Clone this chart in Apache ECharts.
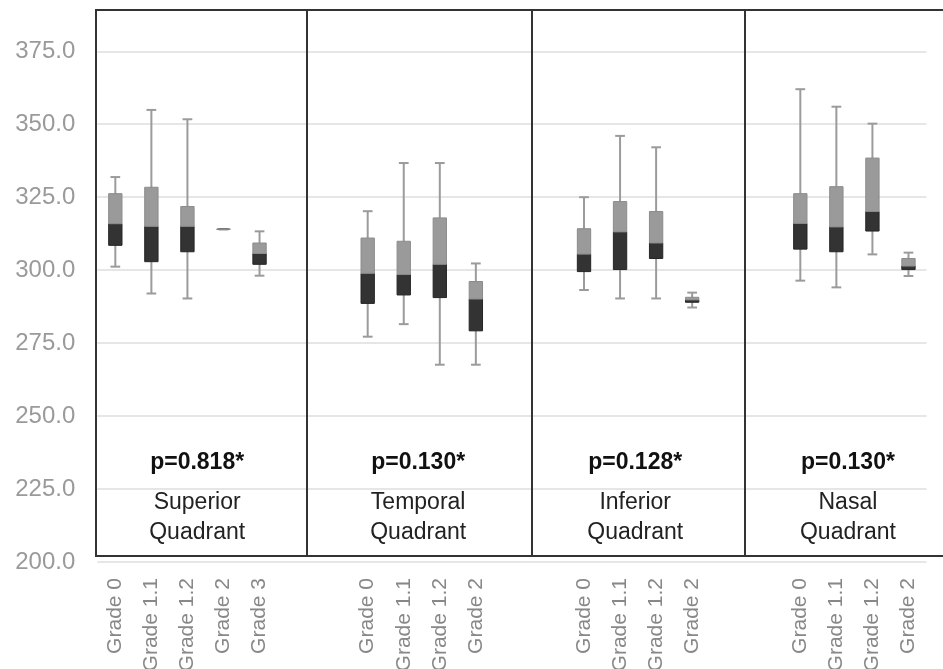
<!DOCTYPE html>
<html>
<head>
<meta charset="utf-8">
<title>Quadrant box plots</title>
<script src="https://cdn.jsdelivr.net/npm/echarts@6.0.0/dist/echarts.min.js"></script>
<style>
  html, body { margin: 0; padding: 0; background: #fff; }
  #chart { width: 943px; height: 669px; }
</style>
</head>
<body>
<div id="chart"></div>
<script>
// grades shown in each quadrant
const gradesSuperior = ['Grade 0', 'Grade 1.1', 'Grade 1.2', 'Grade 2', 'Grade 3'];
const gradesOther = ['Grade 0', 'Grade 1.1', 'Grade 1.2', 'Grade 2'];

// [min, q1, median, q3, max]
const superior = [
  [301.2, 308.5, 315.9, 326.2, 331.9],
  [292.0, 302.9, 315.0, 328.4, 354.9],
  [290.3, 306.3, 315.0, 321.8, 351.7],
  [314.0, 314.0, 314.0, 314.0, 314.0],
  [298.1, 302.0, 305.7, 309.3, 313.3]
];
const temporal = [
  [277.2, 288.6, 298.9, 311.0, 320.2],
  [281.5, 291.5, 298.5, 309.9, 336.7],
  [267.6, 290.6, 302.0, 317.9, 336.7],
  [267.6, 279.2, 290.1, 296.1, 302.3]
];
const inferior = [
  [293.2, 299.5, 305.5, 314.2, 325.0],
  [290.3, 300.2, 313.1, 323.5, 346.0],
  [290.3, 304.0, 309.3, 320.1, 342.1],
  [287.2, 289.0, 289.8, 290.7, 292.3]
];
const nasal = [
  [296.4, 307.2, 316.0, 326.2, 362.0],
  [294.1, 306.3, 314.8, 328.6, 356.0],
  [305.4, 313.4, 320.1, 338.4, 350.2],
  [298.0, 300.2, 301.4, 304.0, 306.0]
];

const quadrantNames = ['Superior\nQuadrant', 'Temporal\nQuadrant', 'Inferior\nQuadrant', 'Nasal\nQuadrant'];
const pValues = ['p=0.818*', 'p=0.130*', 'p=0.128*', 'p=0.130*'];

// layout in slot units (hidden value axis), not data
const dividerPos = [5.31, 11.55, 17.47];
const textPos = [2.27, 8.40, 14.42, 20.32];
const yMin = 200, yMax = 389, frameBottom = 202;

const panels = [
  { grades: gradesSuperior, boxes: superior },
  { grades: gradesOther, boxes: temporal },
  { grades: gradesOther, boxes: inferior },
  { grades: gradesOther, boxes: nasal }
];

const categories = [];
const boxData = [];
panels.forEach((p, k) => {
  if (k > 0) { categories.push('', ''); } // gap between quadrants
  p.grades.forEach((g, i) => {
    boxData.push([categories.length].concat(p.boxes[i]));
    categories.push(g);
  });
});

function renderBox(params, api) {
  const x = api.value(0);
  const pMin = api.coord([x, api.value(1)]);
  const pQ1 = api.coord([x, api.value(2)]);
  const pMed = api.coord([x, api.value(3)]);
  const pQ3 = api.coord([x, api.value(4)]);
  const pMax = api.coord([x, api.value(5)]);
  const band = api.size([1, 0])[0];
  const bw = band * 0.37;
  const cw = band * 0.27;
  const cx = pMin[0];
  const whisker = { stroke: '#9b9b9b', lineWidth: 2 };
  return {
    type: 'group',
    children: [
      { type: 'line', shape: { x1: cx, y1: pMax[1], x2: cx, y2: pMin[1] }, style: whisker },
      { type: 'line', shape: { x1: cx - cw / 2, y1: pMax[1], x2: cx + cw / 2, y2: pMax[1] }, style: whisker },
      { type: 'line', shape: { x1: cx - cw / 2, y1: pMin[1], x2: cx + cw / 2, y2: pMin[1] }, style: whisker },
      {
        type: 'rect',
        shape: { x: cx - bw / 2, y: pMed[1], width: bw, height: pQ1[1] - pMed[1] },
        style: { fill: '#333333', stroke: '#262626', lineWidth: 1 }
      },
      {
        type: 'rect',
        shape: { x: cx - bw / 2, y: pQ3[1], width: bw, height: pMed[1] - pQ3[1] },
        style: { fill: '#9a9a9a', stroke: '#8c8c8c', lineWidth: 1 }
      }
    ]
  };
}

const chart = echarts.init(document.getElementById('chart'));

const dividerLines = dividerPos.map(u => [
  { coord: [u, frameBottom] },
  { coord: [u, yMax] }
]);
const textPoints = [];
textPos.forEach((u, i) => {
  textPoints.push({
    coord: [u, 233.9], value: pValues[i],
    label: { fontWeight: 'bold', fontSize: 23, color: '#111' }
  });
  textPoints.push({
    coord: [u, 215.1], value: quadrantNames[i],
    label: { fontSize: 23, color: '#222', lineHeight: 30 }
  });
});

chart.setOption({
  animation: false,
  textStyle: { fontFamily: 'Liberation Sans, Arial, sans-serif' },
  grid: [
    { left: 97.3, right: 16.5, top: 10.4, bottom: 107, outerBoundsMode: 'none', containLabel: false },
    // outer frame of the panels, running past the right edge
    {
      left: 96, width: 870, top: 10, bottom: 113, outerBoundsMode: 'none', containLabel: false,
      show: true, borderColor: '#333', borderWidth: 2, backgroundColor: 'transparent', z: 5
    }
  ],
  xAxis: [
    {
      type: 'category',
      data: categories,
      gridIndex: 0,
      axisLine: { show: false },
      axisTick: { show: false },
      splitLine: { show: false },
      axisLabel: { interval: 0, rotate: 90, color: '#888', fontSize: 21, margin: 16 }
    },
    { type: 'value', gridIndex: 0, min: -0.5, max: 22.5, show: false },
    { type: 'value', gridIndex: 1, show: false }
  ],
  yAxis: [
    {
      type: 'value',
      gridIndex: 0,
      min: yMin,
      max: yMax,
      interval: 25,
      axisLine: { show: false },
      axisTick: { show: false },
      splitLine: { show: true, showMaxLine: false, lineStyle: { color: '#e6e6e6', width: 2 } },
      axisLabel: {
        color: '#9a9a9a', fontSize: 24, margin: 22, showMaxLabel: false,
        formatter: v => v.toFixed(1)
      }
    },
    { type: 'value', gridIndex: 1, show: false }
  ],
  series: [
    {
      type: 'custom',
      name: 'boxes',
      xAxisIndex: 0,
      yAxisIndex: 0,
      renderItem: renderBox,
      encode: { x: 0, y: [1, 2, 3, 4, 5] },
      data: boxData,
      z: 3
    },
    {
      type: 'line',
      name: 'frame',
      xAxisIndex: 1,
      yAxisIndex: 0,
      data: [],
      silent: true,
      z: 6,
      markLine: {
        silent: true,
        symbol: 'none',
        animation: false,
        label: { show: false },
        lineStyle: { color: '#333', width: 2, type: 'solid' },
        data: dividerLines
      },
      markPoint: {
        silent: true,
        symbol: 'circle',
        symbolSize: 1,
        itemStyle: { color: 'rgba(0,0,0,0)' },
        label: { show: true, position: 'inside', formatter: p => p.value },
        data: textPoints
      }
    }
  ]
});
</script>
</body>
</html>
